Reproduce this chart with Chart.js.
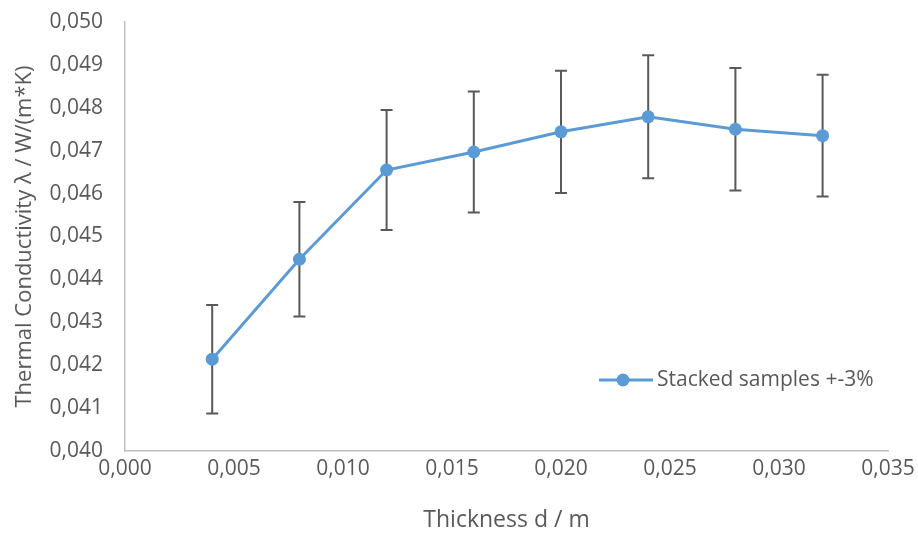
<!DOCTYPE html>
<html>
<head>
<meta charset="utf-8">
<script src="https://cdn.jsdelivr.net/npm/chart.js@4/dist/chart.umd.min.js"></script>
<style>
  html, body { margin: 0; padding: 0; background: #fff; }
  #wrap { width: 918px; height: 534px; }
</style>
</head>
<body>
<div id="wrap"><canvas id="myChart" width="918" height="534"></canvas></div>
<script>
// thickness in m
var thickness = [0.004, 0.008, 0.012, 0.016, 0.020, 0.024, 0.028, 0.032];
// thermal conductivity in W/(m*K)
var conductivity = [0.04214, 0.04447, 0.04655, 0.04697, 0.04744, 0.04779, 0.04750, 0.04735];
var errorPercent = 3; // +-3% as in the legend
var seriesLabel = 'Stacked samples +-3%';

var blue = '#5B9BD5';
var grey = '#595959';
var fontName = '"Open Sans", "DejaVu Sans", sans-serif';

function comma(v) {
    return v.toFixed(3).replace('.', ',');
}

var points = thickness.map(function (x, i) {
    return {x: x, y: conductivity[i]};
});

// error bars, drawn under the line and markers
var errorBars = {
    id: 'errorBars',
    beforeDatasetsDraw: function (chart) {
        var c = chart.ctx, xs = chart.scales.x, ys = chart.scales.y;
        c.save();
        c.strokeStyle = grey;
        c.lineWidth = 2;
        conductivity.forEach(function (v, i) {
            var e = v * errorPercent / 100;
            var px = xs.getPixelForValue(thickness[i]);
            var top = ys.getPixelForValue(v + e);
            var bot = ys.getPixelForValue(v - e);
            c.beginPath();
            c.moveTo(px, top); c.lineTo(px, bot);
            c.moveTo(px - 6, top); c.lineTo(px + 6, top);
            c.moveTo(px - 6, bot); c.lineTo(px + 6, bot);
            c.stroke();
        });
        c.restore();
    }
};

// legend sitting inside the plot, lower right
var insideLegend = {
    id: 'insideLegend',
    afterDraw: function (chart) {
        var c = chart.ctx;
        var y = 380;
        c.save();
        c.strokeStyle = blue;
        c.lineWidth = 3;
        c.beginPath();
        c.moveTo(599, y); c.lineTo(653, y);
        c.stroke();
        c.fillStyle = blue;
        c.beginPath();
        c.arc(623, y, 6.5, 0, Math.PI * 2);
        c.fill();
        c.fillStyle = grey;
        c.font = '21px ' + fontName;
        c.textBaseline = 'middle';
        c.fillText(chart.data.datasets[0].label, 657, y);
        c.restore();
    }
};

var ctx = document.getElementById('myChart').getContext('2d');
var myChart = new Chart(ctx, {
    type: 'scatter',
    data: {
        datasets: [{
            label: seriesLabel,
            data: points,
            showLine: true,
            borderColor: blue,
            backgroundColor: blue,
            borderWidth: 3,
            pointRadius: 6.5,
            pointHoverRadius: 6.5,
            pointBorderWidth: 0
        }]
    },
    options: {
        responsive: false,
        animation: false,
        layout: {padding: {top: 22, right: 30, left: 0, bottom: 0}},
        scales: {
            x: {
                type: 'linear',
                position: 'bottom',
                min: 0,
                max: 0.035,
                afterFit: function (s) {
                    s.height = 83;
                    s.paddingLeft = 0; s.paddingRight = 0;
                },
                ticks: {
                    stepSize: 0.005,
                    padding: 5,
                    color: grey,
                    font: {family: fontName, size: 21},
                    callback: function (v) { return comma(v); }
                },
                grid: {display: false, drawTicks: false},
                border: {color: '#BFBFBF', width: 1.5},
                title: {
                    display: true,
                    text: 'Thickness d / m',
                    color: grey,
                    font: {family: fontName, size: 23},
                    padding: {top: 0, bottom: 0}
                }
            },
            y: {
                type: 'linear',
                position: 'left',
                min: 0.040,
                max: 0.050,
                afterFit: function (s) {
                    s.width = 125;
                    s.paddingTop = 0; s.paddingBottom = 0;
                },
                ticks: {
                    stepSize: 0.001,
                    padding: 22,
                    color: grey,
                    font: {family: fontName, size: 21},
                    callback: function (v) { return comma(v); }
                },
                grid: {display: false, drawTicks: false},
                border: {color: '#BFBFBF', width: 1.5},
                title: {
                    display: true,
                    text: 'Thermal Conductivity λ / W/(m*K)',
                    color: grey,
                    font: {family: fontName, size: 22},
                    padding: {top: 12, bottom: 0}
                }
            }
        },
        plugins: {
            legend: {display: false},
            tooltip: {enabled: false}
        }
    },
    plugins: [errorBars, insideLegend]
});
</script>
</body>
</html>
